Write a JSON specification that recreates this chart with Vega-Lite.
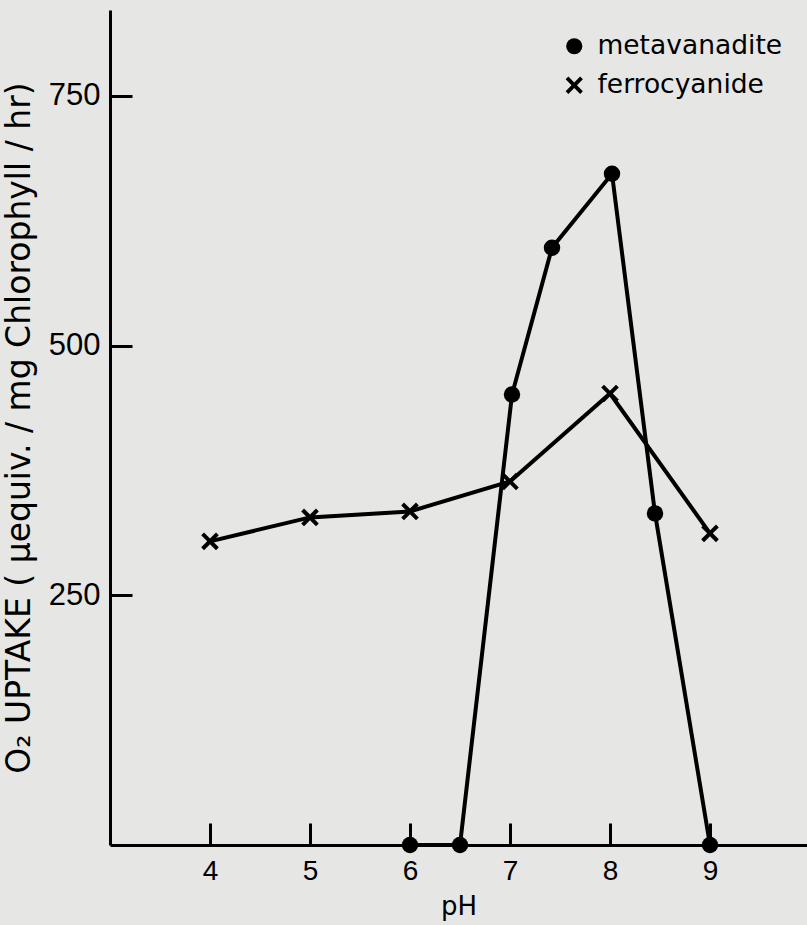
{
  "$schema": "https://vega.github.io/schema/vega-lite/v6.json",
  "width": 697,
  "height": 835,
  "autosize": "none",
  "padding": {"left": 110, "top": 10, "right": 0, "bottom": 80},
  "background": "#e6e6e4",
  "config": {
    "view": {"stroke": null},
    "font": "DejaVu Sans",
    "axis": {
      "grid": false,
      "domainColor": "black",
      "domainWidth": 3,
      "tickColor": "black",
      "tickWidth": 3,
      "labelColor": "black",
      "titleColor": "black",
      "labelFontWeight": "normal",
      "titleFontWeight": "normal",
      "labelFont": "Liberation Sans",
      "titleFont": "DejaVu Sans"
    },
    "legend": {"labelColor": "black", "labelFont": "DejaVu Sans"}
  },
  "data": {
    "values": [
      {"series": "metavanadite", "pH": 6.0, "uptake": 0},
      {"series": "metavanadite", "pH": 6.5, "uptake": 0},
      {"series": "metavanadite", "pH": 7.02, "uptake": 451},
      {"series": "metavanadite", "pH": 7.42, "uptake": 598},
      {"series": "metavanadite", "pH": 8.02, "uptake": 672},
      {"series": "metavanadite", "pH": 8.45, "uptake": 332},
      {"series": "metavanadite", "pH": 9.0, "uptake": 0},
      {"series": "ferrocyanide", "pH": 4, "uptake": 304},
      {"series": "ferrocyanide", "pH": 5, "uptake": 328},
      {"series": "ferrocyanide", "pH": 6, "uptake": 334},
      {"series": "ferrocyanide", "pH": 7, "uptake": 364},
      {"series": "ferrocyanide", "pH": 8, "uptake": 452},
      {"series": "ferrocyanide", "pH": 9, "uptake": 312}
    ]
  },
  "encoding": {
    "x": {
      "field": "pH",
      "type": "quantitative",
      "scale": {"domain": [3, 9.97], "nice": false, "zero": false},
      "axis": {
        "title": "pH",
        "values": [4, 5, 6, 7, 8, 9],
        "tickSize": -22,
        "labelFontSize": 28,
        "titleFontSize": 26,
        "labelPadding": 34,
        "titlePadding": 8
      }
    },
    "y": {
      "field": "uptake",
      "type": "quantitative",
      "scale": {"domain": [0, 836], "nice": false},
      "axis": {
        "title": "O₂ UPTAKE ( μequiv. / mg Chlorophyll / hr)",
        "values": [250, 500, 750],
        "tickSize": -22,
        "labelFontSize": 31,
        "titleFontSize": 33,
        "labelPadding": 32,
        "titlePadding": 12
      }
    }
  },
  "layer": [
    {
      "mark": {"type": "line", "color": "black", "strokeWidth": 4},
      "encoding": {"detail": {"field": "series"}}
    },
    {
      "mark": {"type": "point", "filled": true, "color": "black", "size": 270, "opacity": 1},
      "encoding": {
        "shape": {
          "field": "series",
          "type": "nominal",
          "scale": {
            "domain": ["metavanadite", "ferrocyanide"],
            "range": ["circle", "M0.34,0L1.07,0.73L0.73,1.07L0,0.34L-0.73,1.07L-1.07,0.73L-0.34,0L-1.07,-0.73L-0.73,-1.07L0,-0.34L0.73,-1.07L1.07,-0.73Z"]
          },
          "legend": {
            "title": null,
            "orient": "none",
            "legendX": 451,
            "legendY": 23,
            "labelFontSize": 26.5,
            "labelLimit": 0,
            "symbolSize": 260,
            "symbolFillColor": "black",
            "symbolStrokeWidth": 0,
            "symbolOpacity": 1,
            "rowPadding": 12,
            "labelOffset": 10
          }
        }
      }
    }
  ]
}
